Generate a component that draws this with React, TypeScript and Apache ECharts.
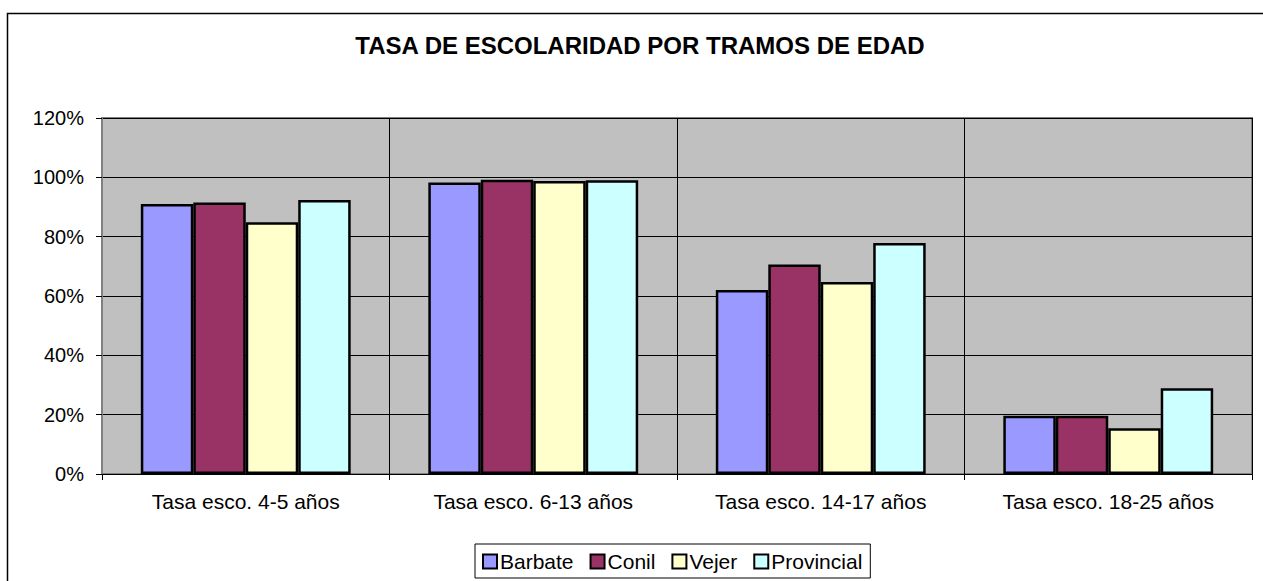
import React, { useEffect, useRef } from "react";
import * as echarts from "echarts";

const titleText = "TASA DE ESCOLARIDAD POR TRAMOS DE EDAD";
const categories = [
  "Tasa esco. 4-5 años",
  "Tasa esco. 6-13 años",
  "Tasa esco. 14-17 años",
  "Tasa esco. 18-25 años",
];
const seriesNames = ["Barbate", "Conil", "Vejer", "Provincial"];
const barbate = [91.0, 98.3, 62.0, 19.6];
const conil = [91.5, 99.2, 70.6, 19.6];
const vejer = [84.9, 98.8, 64.7, 15.4];
const provincial = [92.4, 99.0, 77.9, 28.9];
const seriesColors = ["#9999FF", "#993366", "#FFFFCC", "#CCFFFF"];

const FONT = "'Liberation Sans', Arial, Helvetica, sans-serif";

export default function App() {
  const ref = useRef<HTMLDivElement>(null);
  useEffect(() => {
    if (!ref.current) return;
    const chart = echarts.init(ref.current, null, { renderer: "svg" });
    const values = [barbate, conil, vejer, provincial];
    chart.setOption({
      animation: false,
      backgroundColor: "#FFFFFF",
      graphic: [
        {
          type: "rect",
          silent: true,
          shape: { x: 7.5, y: 13.5, width: 1300, height: 620 },
          style: { fill: "none", stroke: "#000000", lineWidth: 1.5 },
          z: 100,
        },
        {
          type: "text",
          x: 640,
          y: 45,
          style: {
            text: titleText,
            font: `bold 24px ${FONT}`,
            fill: "#000000",
            textAlign: "center",
            textVerticalAlign: "middle",
          },
        },
      ],
      grid: {
        left: 102,
        top: 118,
        width: 1150,
        height: 356,
        show: true,
        backgroundColor: "#C0C0C0",
        borderColor: "#808080",
        borderWidth: 2,
      },
      legend: {
        data: seriesNames,
        left: 475,
        top: 544,
        orient: "horizontal",
        padding: [7, 8, 6, 7],
        itemGap: 16,
        itemWidth: 14,
        itemHeight: 14,
        borderColor: "#000000",
        borderWidth: 1,
        backgroundColor: "#FFFFFF",
        icon: "rect",
        textStyle: { fontFamily: FONT, fontSize: 21, color: "#000000", padding: [0, 0, 0, -2] },
      },
      xAxis: {
        type: "category",
        data: categories,
        boundaryGap: true,
        axisLine: { show: true, lineStyle: { color: "#000000", width: 1 } },
        axisTick: { show: true, length: 6, alignWithLabel: false, lineStyle: { color: "#000000" } },
        axisLabel: { fontFamily: FONT, fontSize: 21, color: "#000000", margin: 17 },
        splitLine: { show: true, interval: 0, lineStyle: { color: "#000000", width: 1 } },
      },
      yAxis: {
        type: "value",
        min: 0,
        max: 120,
        interval: 20,
        axisLine: { show: true, lineStyle: { color: "#808080", width: 2 } },
        axisTick: { show: true, length: 6, lineStyle: { color: "#000000" } },
        axisLabel: {
          fontFamily: FONT,
          fontSize: 20,
          color: "#000000",
          margin: 18,
          formatter: (v: number) => `${v}%`,
        },
        splitLine: { show: true, lineStyle: { color: "#000000", width: 1 } },
      },
      series: seriesNames.map((name, i) => ({
        name,
        type: "bar",
        data: values[i],
        barGap: "0%",
        barCategoryGap: "27%",
        itemStyle: { color: seriesColors[i], borderColor: "#000000", borderWidth: 2.5 },
      })),
    });
    return () => chart.dispose();
  }, []);
  return (
    <div
      ref={ref}
      style={{ position: "fixed", left: 0, top: 0, width: 1263, height: 581 }}
    />
  );
}
